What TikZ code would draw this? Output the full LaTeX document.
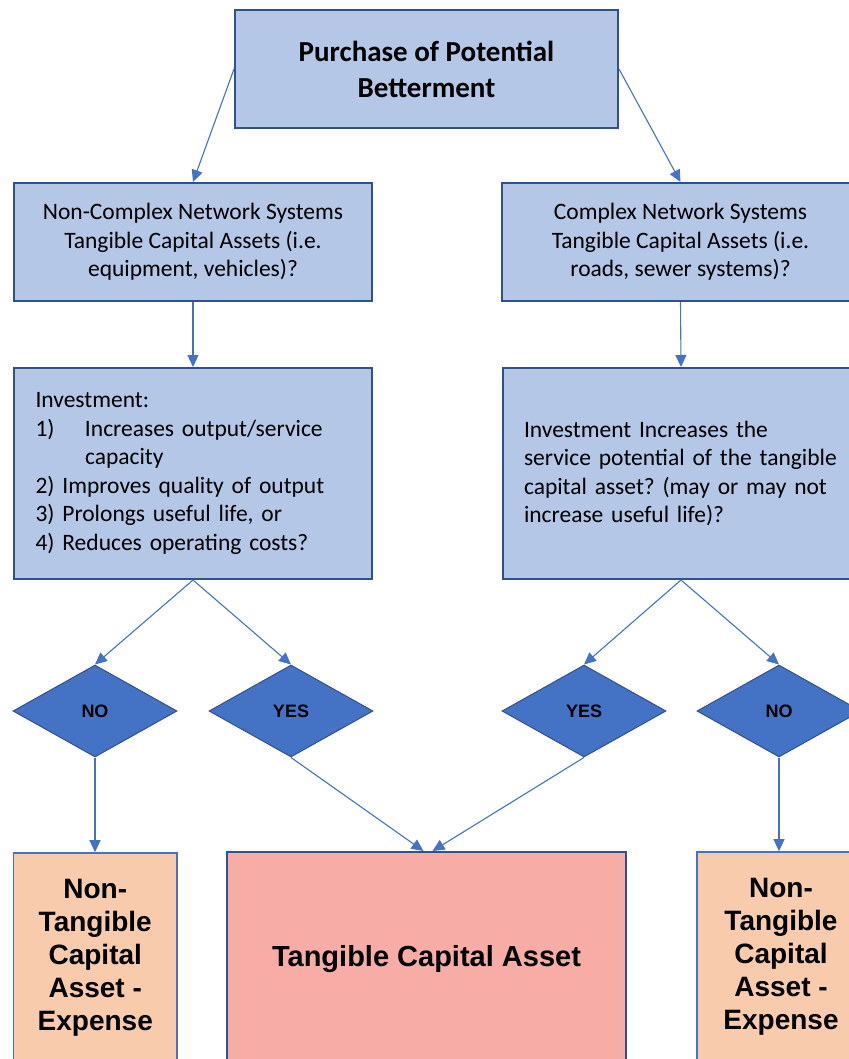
\documentclass[tikz,border=0pt]{standalone}
\usepackage{fontspec}
\setmainfont{Carlito}
\newfontfamily\arialfont{Liberation Sans}
\usetikzlibrary{shapes.geometric,arrows.meta}
\definecolor{boxfill}{HTML}{B4C7E7}
\definecolor{boxline}{HTML}{2F528F}
\definecolor{accent}{HTML}{4472C4}
\definecolor{peach}{HTML}{F8CBAD}
\definecolor{salmon}{HTML}{F7ADA5}
\frenchspacing
\begin{document}
\begin{tikzpicture}[x=1pt,y=-1pt,
    qbox/.style={draw=boxline,line width=2pt,fill=boxfill,inner sep=0pt,
      font=\fontsize{23.5}{28.5}\selectfont},
    choice/.style={diamond,draw=boxline,line width=1pt,fill=accent,inner sep=0pt,
      minimum width=164pt,minimum height=92pt,font=\arialfont\bfseries\fontsize{18}{22}\selectfont},
    result/.style={draw=accent,line width=1.6pt,fill=peach,inner sep=0pt,align=center,
      font=\arialfont\bfseries\fontsize{28}{33}\selectfont},
    flow/.style={accent,line width=1.1pt,-{Triangle[length=12pt,width=11pt]}}]
            \useasboundingbox (0,0) rectangle (848,1059);
            \node[qbox,align=center,minimum width=383pt,minimum height=118pt,
              font=\bfseries\fontsize{29}{36}\selectfont] (top) at (426.5,69)
              {Purchase of Potential\\Betterment};
            \node[qbox,align=center,minimum width=358pt,minimum height=118pt] (ncx) at (193,242)
              {Non-Complex Network Systems\\Tangible Capital Assets (i.e.\\equipment, vehicles)?};
            \node[qbox,align=center,minimum width=357pt,minimum height=118pt] (cx) at (680.5,242)
              {Complex Network Systems\\Tangible Capital Assets (i.e.\\roads, sewer systems)?};
            \node[qbox,align=left,text width=315pt,inner xsep=21.5pt,minimum height=211pt] (ncinv) at (193,473.5)
              {Investment:\\\makebox[49.5pt][l]{1)}Increases output/service\\\hspace*{49.5pt}capacity\\
               2) Improves quality of output\\3) Prolongs useful life, or\\4) Reduces operating costs?};
            \node[qbox,align=left,text width=314pt,inner xsep=21pt,minimum height=211pt] (cxinv) at (681,473.5)
              {Investment Increases the\\service potential of the tangible\\capital asset? (may or may not\\increase useful life)?};
            \node[choice] (no1) at (95,711) {NO};
            \node[choice] (yes1) at (291,711) {YES};
            \node[choice] (yes2) at (584,711) {YES};
            \node[choice] (no2) at (779,711) {NO};
            \node[result,minimum width=163.5pt,minimum height=210pt] (exp1) at (95.25,958)
              {Non-\\Tangible\\Capital\\Asset -\\Expense};
            \node[result,minimum width=168pt,minimum height=210pt] (exp2) at (781,957)
              {Non-\\Tangible\\Capital\\Asset -\\Expense};
            \node[result,draw=boxline,line width=2pt,fill=salmon,minimum width=399pt,minimum height=214pt,
              font=\arialfont\bfseries\fontsize{29}{34}\selectfont] (tca) at (426.5,959) {Tangible Capital Asset};
            \draw[flow] (top.west) -- (ncx.north);
            \draw[flow] (top.east) -- (cx.north);
            \draw[flow] (ncx.south) -- (ncinv.north);
            \draw[flow] (cx.south) -- (cxinv.north);
            \draw[flow] (ncinv.south) -- (no1.north);
            \draw[flow] (ncinv.south) -- (yes1.north);
            \draw[flow] (cxinv.south) -- (yes2.north);
            \draw[flow] (cxinv.south) -- (no2.north);
            \draw[flow] (no1.south) -- (no1.south |- exp1.north);
            \draw[flow] (yes1.south) -- ([xshift=-3pt]tca.north);
            \draw[flow] (yes2.south) -- ([xshift=6pt]tca.north);
            \draw[flow] (no2.south) -- (no2.south |- exp2.north);
\end{tikzpicture}
\end{document}
